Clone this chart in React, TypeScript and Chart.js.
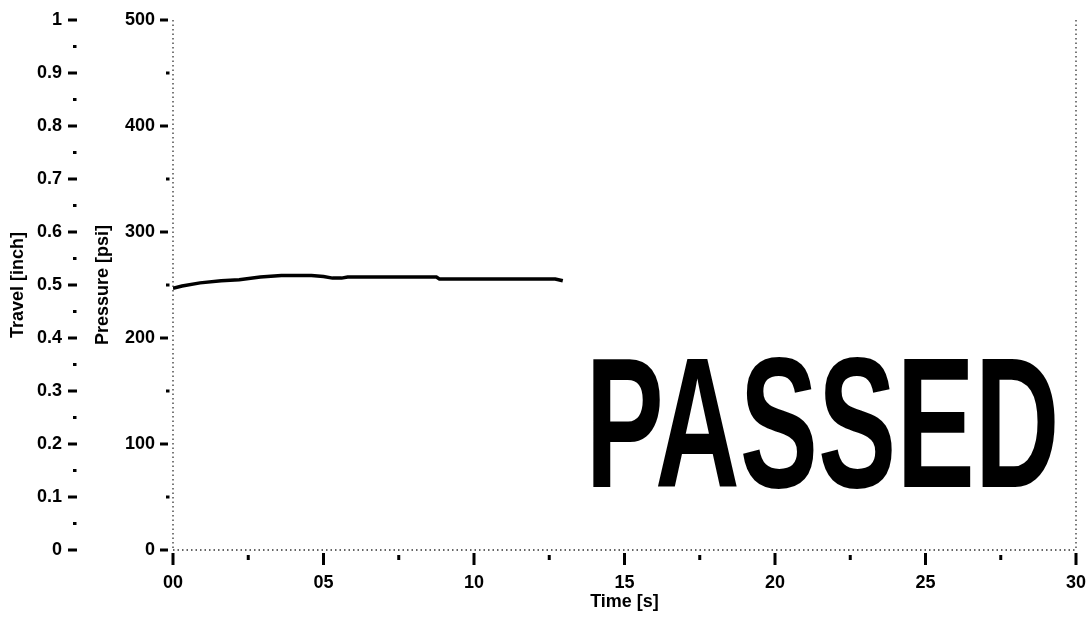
import React, { useEffect, useRef } from 'react';
import { Chart, registerables } from 'chart.js';

Chart.register(...registerables);

// ---- data ----
const timeSeconds = [0, 0.3, 0.9, 1.6, 2.2, 2.9, 3.6, 4.6, 5.0, 5.3, 5.6, 5.8, 8.75, 8.85, 12.7, 12.95];
const pressurePsi = [247, 249, 252, 254, 255, 257.5, 259, 259, 258, 256.5, 256.5, 257.5, 257.5, 255.7, 255.7, 254];

const travelTickLabels = ['0', '0.1', '0.2', '0.3', '0.4', '0.5', '0.6', '0.7', '0.8', '0.9', '1'];
const pressureTickLabels = ['0', '100', '200', '300', '400', '500'];
const timeTickLabels = ['00', '05', '10', '15', '20', '25', '30'];

const stampText = 'PASSED';

const FONT = "'Liberation Sans', Arial, Helvetica, sans-serif";

function majorIndex(v: number, step: number): number {
  const r = v / step;
  const i = Math.round(r);
  return Math.abs(r - i) < 1e-6 ? i : -1;
}

function zeroPad(s: any) {
  s.paddingTop = 0;
  s.paddingBottom = 0;
  s.paddingLeft = 0;
  s.paddingRight = 0;
}

const marksPlugin = {
  id: 'marks',
  beforeDatasetsDraw(chart: any) {
    const ctx = chart.ctx as CanvasRenderingContext2D;
    const { top, bottom, left, right } = chart.chartArea;
    ctx.save();
    ctx.strokeStyle = '#333';
    ctx.lineWidth = 1.3;
    ctx.setLineDash([1.5, 3]);
    ctx.beginPath();
    ctx.moveTo(left, top);
    ctx.lineTo(left, bottom);
    ctx.moveTo(left, bottom);
    ctx.lineTo(right, bottom);
    ctx.moveTo(right, top);
    ctx.lineTo(right, bottom);
    ctx.stroke();
    ctx.restore();
  },
  afterDraw(chart: any) {
    const ctx = chart.ctx as CanvasRenderingContext2D;
    ctx.save();
    ctx.fillStyle = '#000';

    const yt = chart.scales.travel;
    yt.ticks.forEach((t: any) => {
      const y = yt.getPixelForValue(t.value);
      if (majorIndex(t.value, 0.1) >= 0) ctx.fillRect(yt.right - 20, y - 1.5, 9, 3);
      else ctx.fillRect(yt.right - 15, y - 1.5, 3.5, 3);
    });

    const yp = chart.scales.pressure;
    yp.ticks.forEach((t: any) => {
      const y = yp.getPixelForValue(t.value);
      if (majorIndex(t.value, 100) >= 0) ctx.fillRect(yp.right - 13, y - 1.5, 8, 3);
      else ctx.fillRect(yp.right - 7, y - 1.5, 3.5, 3);
    });

    const xs = chart.scales.x;
    xs.ticks.forEach((t: any) => {
      const x = xs.getPixelForValue(t.value);
      if (majorIndex(t.value, 5) >= 0) ctx.fillRect(x - 1.5, xs.top + 3, 3, 12);
      else ctx.fillRect(x - 1.5, xs.top + 5, 3, 5);
    });

    // PASSED stamp
    ctx.font = `bold 100px ${FONT}`;
    const m0 = ctx.measureText(stampText);
    const size = (100 * 130) / m0.actualBoundingBoxAscent;
    ctx.font = `bold ${size}px ${FONT}`;
    const m = ctx.measureText(stampText);
    const inkW = m.actualBoundingBoxLeft + m.actualBoundingBoxRight;
    const sx = 462 / inkW;
    ctx.translate(593 + m.actualBoundingBoxLeft * sx, 487);
    ctx.scale(sx, 1);
    ctx.textBaseline = 'alphabetic';
    ctx.textAlign = 'left';
    ctx.fillText(stampText, 0, 0);
    ctx.restore();
  },
};

export default function App() {
  const ref = useRef<HTMLCanvasElement | null>(null);

  useEffect(() => {
    if (!ref.current) return;
    const tickFont = { family: FONT, size: 18, weight: 'bold' as const };
    const titleFont = { family: FONT, size: 18, weight: 'bold' as const };
    const chart = new Chart(ref.current, {
      type: 'line',
      data: {
        datasets: [
          {
            label: 'Pressure',
            data: timeSeconds.map((t, i) => ({ x: t, y: pressurePsi[i] })),
            yAxisID: 'pressure',
            xAxisID: 'x',
            borderColor: '#000',
            borderWidth: 3.5,
            pointRadius: 0,
            tension: 0,
            fill: false,
          },
        ],
      },
      options: {
        animation: false,
        responsive: false,
        events: [],
        layout: { padding: { top: 20, right: 13, left: 0, bottom: 0 } },
        plugins: { legend: { display: false }, tooltip: { enabled: false } },
        scales: {
          x: {
            type: 'linear',
            position: 'bottom',
            min: 0,
            max: 30,
            afterFit: (s: any) => { s.height = 67; zeroPad(s); },
            ticks: {
              stepSize: 2.5,
              autoSkip: false,
              maxRotation: 0,
              color: '#000',
              font: tickFont,
              padding: 22,
              callback: (v: any) => {
                const i = majorIndex(Number(v), 5);
                return i >= 0 ? timeTickLabels[i] : '';
              },
            },
            grid: { display: false, drawTicks: false },
            border: { display: false },
            title: { display: true, text: 'Time [s]', color: '#000', font: titleFont, padding: { top: 0, bottom: 4 } },
          },
          travel: {
            type: 'linear',
            position: 'left',
            weight: 2,
            min: 0,
            max: 1,
            afterFit: (s: any) => { s.width = 88; zeroPad(s); },
            ticks: {
              stepSize: 0.05,
              autoSkip: false,
              color: '#000',
              font: tickFont,
              padding: 26,
              callback: (v: any) => {
                const i = majorIndex(Number(v), 0.1);
                return i >= 0 ? travelTickLabels[i] : '';
              },
            },
            grid: { display: false, drawTicks: false },
            border: { display: false },
            title: { display: true, text: 'Travel [inch]', color: '#000', font: titleFont, padding: { top: 7, bottom: 0 } },
          },
          pressure: {
            type: 'linear',
            position: 'left',
            weight: 1,
            min: 0,
            max: 500,
            afterFit: (s: any) => { s.width = 85; zeroPad(s); },
            ticks: {
              stepSize: 50,
              autoSkip: false,
              color: '#000',
              font: tickFont,
              padding: 18,
              callback: (v: any) => {
                const i = majorIndex(Number(v), 100);
                return i >= 0 ? pressureTickLabels[i] : '';
              },
            },
            grid: { display: false, drawTicks: false },
            border: { display: false },
            title: { display: true, text: 'Pressure [psi]', color: '#000', font: titleFont, padding: { top: 4, bottom: 0 } },
          },
        },
      } as any,
      plugins: [marksPlugin],
    });
    return () => chart.destroy();
  }, []);

  return (
    <div style={{ position: 'absolute', left: 0, top: 0, width: 1089, height: 617, background: '#fff' }}>
      <canvas ref={ref} width={1089} height={617} style={{ display: 'block' }} />
    </div>
  );
}
